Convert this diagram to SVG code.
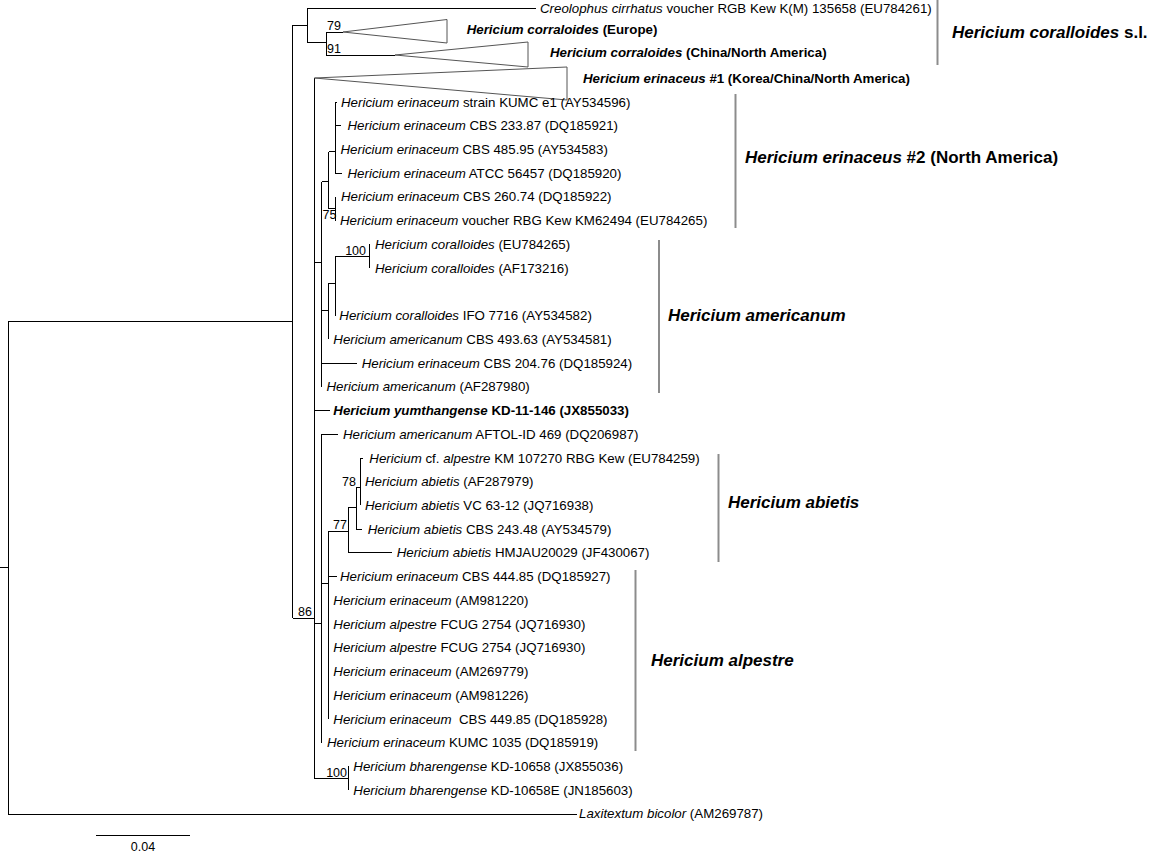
<svg xmlns="http://www.w3.org/2000/svg" width="1150" height="852" viewBox="0 0 1150 852">
<style>
text{font-family:"Liberation Sans",Arial,sans-serif;fill:#000}
.t{font-size:13.3px}
.i{font-style:italic}
.b{font-weight:bold}
.bs{font-size:12.5px}
.cl{font-size:17px;font-weight:bold}
.e{fill:none;stroke:#000;stroke-width:1}
.tri{fill:none;stroke:#555;stroke-width:1}
.bar{stroke:#8c8c8c;stroke-width:2}
</style>
<rect width="1150" height="852" fill="#fff"/>
<g id="connectors" class="e" shape-rendering="crispEdges">
<path d="M0 567.5H8 M8 321V814 M8 321H292.5 M8 814H577
M292.5 25V618 M292.5 25H307 M292.5 618H314.5
M307 8V42.5 M307 8H536 M307 42.5H326
M326 32V55 M326 32H343 M326 55H395
M314.5 78V778.5 M314.5 262H321.5 M314.5 410.5H330 M314.5 623H321.5 M314.5 778.5H348.3
M321.5 181.7V386.8 M321.5 181.7H328.5 M321.5 310H328.5 M321.5 363H356.5
M328.5 151.7V208.5 M328.5 151.7H335 M328.5 208.5H335
M335 102V173.2 M335 102H337 M335 125.7H341 M335 173.2H342
M335 196.9V220.7
M328.5 283V339.3 M328.5 283H335
M335 256.3V315.6 M335 256.3H369
M369 244.4V268.1
M321.5 434.2V742.7 M321.5 434.2H338.3 M321.5 583H328
M328 531.7V719 M328 531.7H348.3 M328 576.6H336.7
M348.3 507V552.9 M348.3 507H356 M348.3 552.9H392
M356 487V529.1 M356 487H360 M356 529.1H362
M360 458V505.4 M360 458H363.3
M348.3 766.4V790.2"/>
</g>
<g id="support" class="bs">
<text x="327" y="30">79</text>
<text x="327" y="53">91</text>
<text x="322.5" y="218.5">75</text>
<text x="366" y="255" text-anchor="end">100</text>
<text x="356" y="486" text-anchor="end">78</text>
<text x="347" y="528.5" text-anchor="end">77</text>
<text x="312" y="616" text-anchor="end">86</text>
<text x="347" y="777" text-anchor="end">100</text>
</g>
<g id="n-creolophus"><text class="t" x="540" y="12.5"><tspan class="i">Creolophus cirrhatus</tspan> voucher RGB Kew K(M) 135658 (EU784261)</text></g>
<g id="n-europe"><polygon class="tri" points="343,32 447,19.5 447,43"/><text class="t b" x="466.7" y="34"><tspan class="i">Hericium corraloides</tspan> (Europe)</text></g>
<g id="n-china"><polygon class="tri" points="395,55 528,42 528,67"/><text class="t b" x="550" y="56.5"><tspan class="i">Hericium corraloides</tspan> (China/North America)</text></g>
<g id="n-erin1"><polygon class="tri" points="314.5,78 567,67 567,100"/><text class="t b" x="583" y="83"><tspan class="i">Hericium erinaceus</tspan> #1 (Korea/China/North America)</text></g>
<g id="n-kumce1"><text class="t" x="341" y="106.5"><tspan class="i">Hericium erinaceum</tspan> strain KUMC e1 (AY534596)</text></g>
<g id="n-cbs23387"><text class="t" x="347.5" y="130.2"><tspan class="i">Hericium erinaceum</tspan> CBS 233.87 (DQ185921)</text></g>
<g id="n-cbs48595"><text class="t" x="340.5" y="154"><tspan class="i">Hericium erinaceum</tspan> CBS 485.95 (AY534583)</text></g>
<g id="n-atcc"><text class="t" x="347.5" y="177.7"><tspan class="i">Hericium erinaceum</tspan> ATCC 56457 (DQ185920)</text></g>
<g id="n-cbs26074"><text class="t" x="341" y="201.4"><tspan class="i">Hericium erinaceum</tspan> CBS 260.74 (DQ185922)</text></g>
<g id="n-km62494"><text class="t" x="340" y="225.2"><tspan class="i">Hericium erinaceum</tspan> voucher RBG Kew KM62494 (EU784265)</text></g>
<g id="n-cor-eu"><text class="t" x="375" y="248.9"><tspan class="i">Hericium coralloides</tspan> (EU784265)</text></g>
<g id="n-cor-af"><text class="t" x="375" y="272.6"><tspan class="i">Hericium coralloides</tspan> (AF173216)</text></g>
<g id="n-cor-ifo"><text class="t" x="339.3" y="320.1"><tspan class="i">Hericium coralloides</tspan> IFO 7716 (AY534582)</text></g>
<g id="n-am-cbs"><text class="t" x="333.3" y="343.8"><tspan class="i">Hericium americanum</tspan> CBS 493.63 (AY534581)</text></g>
<g id="n-cbs20476"><text class="t" x="361.7" y="367.5"><tspan class="i">Hericium erinaceum</tspan> CBS 204.76 (DQ185924)</text></g>
<g id="n-am-af"><text class="t" x="326.5" y="391.3"><tspan class="i">Hericium americanum</tspan> (AF287980)</text></g>
<g id="n-yum"><text class="t b" x="333.3" y="415"><tspan class="i">Hericium yumthangense</tspan> KD-11-146 (JX855033)</text></g>
<g id="n-aftol"><text class="t" x="343" y="438.7"><tspan class="i">Hericium americanum</tspan> AFTOL-ID 469 (DQ206987)</text></g>
<g id="n-cfalp"><text class="t" x="369.3" y="462.5"><tspan class="i">Hericium</tspan> cf. <tspan class="i">alpestre</tspan> KM 107270 RBG Kew (EU784259)</text></g>
<g id="n-ab-af"><text class="t" x="365" y="486.2"><tspan class="i">Hericium abietis</tspan> (AF287979)</text></g>
<g id="n-ab-vc"><text class="t" x="365" y="509.9"><tspan class="i">Hericium abietis</tspan> VC 63-12 (JQ716938)</text></g>
<g id="n-ab-cbs"><text class="t" x="367.7" y="533.6"><tspan class="i">Hericium abietis</tspan> CBS 243.48 (AY534579)</text></g>
<g id="n-ab-hmj"><text class="t" x="396.7" y="557.4"><tspan class="i">Hericium abietis</tspan> HMJAU20029 (JF430067)</text></g>
<g id="n-cbs44485"><text class="t" x="340" y="581.1"><tspan class="i">Hericium erinaceum</tspan> CBS 444.85 (DQ185927)</text></g>
<g id="n-am981220"><text class="t" x="333.3" y="604.8"><tspan class="i">Hericium erinaceum</tspan> (AM981220)</text></g>
<g id="n-fcug1"><text class="t" x="333.3" y="628.6"><tspan class="i">Hericium alpestre</tspan> FCUG 2754 (JQ716930)</text></g>
<g id="n-fcug2"><text class="t" x="333.3" y="652.3"><tspan class="i">Hericium alpestre</tspan> FCUG 2754 (JQ716930)</text></g>
<g id="n-am269779"><text class="t" x="333.3" y="676"><tspan class="i">Hericium erinaceum</tspan> (AM269779)</text></g>
<g id="n-am981226"><text class="t" x="333.3" y="699.8"><tspan class="i">Hericium erinaceum</tspan> (AM981226)</text></g>
<g id="n-cbs44985"><text class="t" x="333.3" y="723.5"><tspan class="i">Hericium erinaceum</tspan> <tspan dx="3.7">CBS 449.85 (DQ185928)</tspan></text></g>
<g id="n-kumc1035"><text class="t" x="327" y="747.2"><tspan class="i">Hericium erinaceum</tspan> KUMC 1035 (DQ185919)</text></g>
<g id="n-bhar1"><text class="t" x="353.3" y="770.9"><tspan class="i">Hericium bharengense</tspan> KD-10658 (JX855036)</text></g>
<g id="n-bhar2"><text class="t" x="353.3" y="794.7"><tspan class="i">Hericium bharengense</tspan> KD-10658E (JN185603)</text></g>
<g id="n-laxi"><text class="t" x="579" y="818.4"><tspan class="i">Laxitextum bicolor</tspan> (AM269787)</text></g>
<g id="clade-coralloides"><line class="bar" x1="937.5" y1="0" x2="937.5" y2="65"/><text class="cl" x="952" y="38"><tspan class="i">Hericium coralloides</tspan> s.l.</text></g>
<g id="clade-erinaceus2"><line class="bar" x1="735.5" y1="94" x2="735.5" y2="228"/><text class="cl" x="745" y="163"><tspan class="i">Hericium erinaceus</tspan> #2 (North America)</text></g>
<g id="clade-americanum"><line class="bar" x1="659" y1="240" x2="659" y2="393"/><text class="cl i" x="668" y="321">Hericium americanum</text></g>
<g id="clade-abietis"><line class="bar" x1="718.5" y1="454" x2="718.5" y2="562"/><text class="cl i" x="728" y="508">Hericium abietis</text></g>
<g id="clade-alpestre"><line class="bar" x1="635.5" y1="570" x2="635.5" y2="751"/><text class="cl i" x="651" y="666">Hericium alpestre</text></g>
<g id="scale"><line x1="96" y1="835.5" x2="190" y2="835.5" stroke="#000" stroke-width="1" shape-rendering="crispEdges"/><text class="bs" x="143" y="851" text-anchor="middle">0.04</text></g>
</svg>
